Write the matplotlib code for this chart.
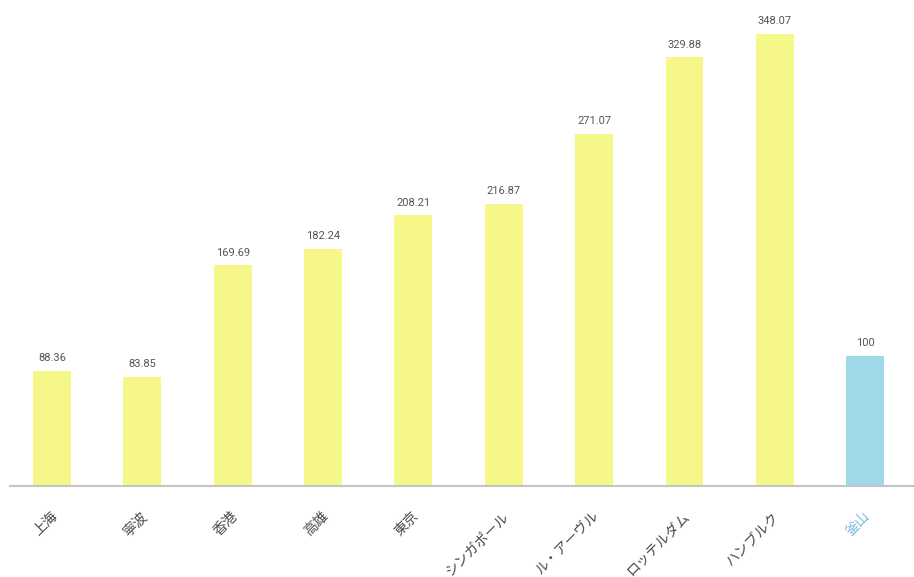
import matplotlib
matplotlib.use("Agg")
import matplotlib.pyplot as plt
import matplotlib.transforms as mtransforms

plt.rcParams['font.family'] = ['Noto Sans CJK JP', 'DejaVu Sans']

# Data
ports = ["上海", "寧波", "香港", "高雄", "東京", "シンガポール", "ル・アーヴル", "ロッテルダム", "ハンブルク", "釜山"]
values = [88.36, 83.85, 169.69, 182.24, 208.21, 216.87, 271.07, 329.88, 348.07, 100]
value_labels = ["88.36", "83.85", "169.69", "182.24", "208.21", "216.87", "271.07", "329.88", "348.07", "100"]

yellow = "#f5f888"
blue = "#9fd8e8"
colors = [yellow] * 9 + [blue]

fig = plt.figure(figsize=(9.14, 5.77), dpi=100)
ax = fig.add_axes([0.011, 0.158, 0.989, 0.842])

x = list(range(len(ports)))
ax.bar(x, values, width=0.42, color=colors, zorder=2)

for xi, v, lab in zip(x, values, value_labels):
    ax.text(xi, v + 6, lab, ha="center", va="bottom", fontsize=8,
            color="#555555", family=["Roboto", "DejaVu Sans"])

ax.set_xlim(-0.465, 9.54)
ax.set_ylim(0, 374)

for s in ["top", "right", "left"]:
    ax.spines[s].set_visible(False)
ax.spines["bottom"].set_color("#c4c4c4")
ax.spines["bottom"].set_linewidth(1.5)
ax.set_yticks([])
ax.set_xticks(x)
ax.set_xticklabels(ports, rotation=45, ha="right", rotation_mode="anchor", fontsize=10)
ax.tick_params(axis="x", length=0, pad=14)

# nudge the rotated labels so their right ends sit just under the bars
offset = mtransforms.ScaledTranslation(-2 / 100, -4 / 100, fig.dpi_scale_trans)
for lbl in ax.get_xticklabels():
    lbl.set_transform(lbl.get_transform() + offset)
    lbl.set_color("#4a4a4a")
ax.get_xticklabels()[-1].set_color("#7ab8da")

fig.savefig("out.png", dpi=100)
